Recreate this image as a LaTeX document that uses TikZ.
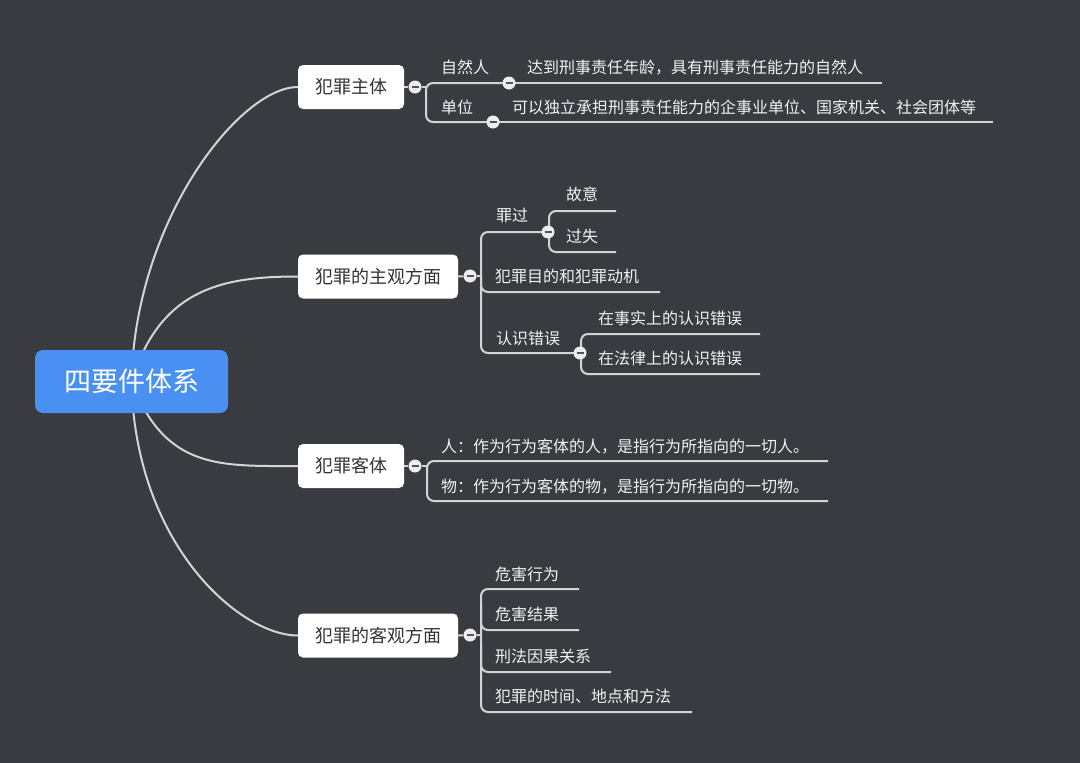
\documentclass[tikz,border=0pt]{standalone}
\usepackage{fontspec}
\newfontfamily\cjk{Noto Sans CJK SC}
\usetikzlibrary{backgrounds}
\definecolor{bgc}{HTML}{393B40}
\definecolor{linec}{HTML}{D4D4D4}
\definecolor{rootc}{HTML}{4A90F2}
\definecolor{boxtext}{HTML}{333333}
\definecolor{leaftext}{HTML}{F2F2F2}
\definecolor{minusc}{HTML}{505357}
\definecolor{togglec}{HTML}{EDEDED}
\begin{document}
\begin{tikzpicture}[x=1pt,y=-1pt,
  conn/.style={draw=linec,line width=2pt},
  rootbox/.style={fill=rootc,rounded corners=8pt,minimum width=193pt,minimum height=63pt,inner sep=0pt,text=white,font=\cjk\fontsize{27}{27}\selectfont},
  branchbox/.style={fill=white,rounded corners=5pt,minimum height=44pt,inner sep=0pt,text=boxtext,font=\cjk\fontsize{18}{18}\selectfont},
  leaf/.style={anchor=west,inner sep=0pt,text=leaftext,font=\cjk\fontsize{16}{16}\selectfont,text height=13.3pt,text depth=1.1pt},
  toggle/.style={circle,fill=togglec,minimum size=13pt,inner sep=0pt,
    path picture={\draw[minusc,line width=1.8pt] ([xshift=-3.5pt]path picture bounding box.center) -- ([xshift=3.5pt]path picture bounding box.center);}},
]
\useasboundingbox (0,0) rectangle (1080,763);

% root and main branches
\node[rootbox] (root) at (131.5,381.5) {四要件体系};
\node[branchbox,minimum width=106pt] (b1) at (351,87) {犯罪主体};
\node[branchbox,minimum width=160pt] (b2) at (378,276.5) {犯罪的主观方面};
\node[branchbox,minimum width=106pt] (b3) at (351,466) {犯罪客体};
\node[branchbox,minimum width=160pt] (b4) at (378,635.5) {犯罪的客观方面};

% toggles of main branches
\node[toggle] (t1) at (415,87) {};
\node[toggle] (t2) at (470,276) {};
\node[toggle] (t3) at (415,466) {};
\node[toggle] (t4) at (470,635) {};

% junction coordinates
\coordinate (j1) at (426,87);
\coordinate (j2) at (481,276);
\coordinate (j3) at (427,466);
\coordinate (j4) at (481,635);

% ---- 犯罪主体
\node[leaf] (l11) at (441,67) {自然人};
\node[leaf] (l12) at (441,107) {单位};
\node[toggle] (n11) at (509,83) {};
\node[toggle] (n12) at (493,122) {};
\node[leaf] (l111) at (527,67) {达到刑事责任年龄，具有刑事责任能力的自然人};
\node[leaf] (l121) at (512,107) {可以独立承担刑事责任能力的企事业单位、国家机关、社会团体等};
\coordinate (u111) at (882,83);
\coordinate (u121) at (993,122);

% ---- 犯罪的主观方面
\node[leaf] (l21) at (496,215) {罪过};
\node[toggle] (n21) at (548,232) {};
\node[leaf] (l211) at (566,194) {故意};
\node[leaf] (l212) at (566,236) {过失};
\coordinate (u211) at (616,211);
\coordinate (u212) at (616,252);
\node[leaf] (l22) at (495,276) {犯罪目的和犯罪动机};
\coordinate (u22) at (660,292);
\node[leaf] (l23) at (496,338) {认识错误};
\node[toggle] (n23) at (580,353) {};
\node[leaf] (l231) at (598,318) {在事实上的认识错误};
\node[leaf] (l232) at (598,358) {在法律上的认识错误};
\coordinate (u231) at (760,334);
\coordinate (u232) at (760,374);

% ---- 犯罪客体
\node[leaf] (l31) at (441,446) {人：作为行为客体的人，是指行为所指向的一切人。};
\node[leaf] (l32) at (441,486) {物：作为行为客体的物，是指行为所指向的一切物。};
\coordinate (u31) at (828,461);
\coordinate (u32) at (828,501);

% ---- 犯罪的客观方面
\node[leaf] (l41) at (495,574) {危害行为};
\node[leaf] (l42) at (495,614) {危害结果};
\node[leaf] (l43) at (495,656) {刑法因果关系};
\node[leaf] (l44) at (495,696) {犯罪的时间、地点和方法};
\coordinate (u41) at (579,589);
\coordinate (u42) at (579,630);
\coordinate (u43) at (611,672);
\coordinate (u44) at (692,712);

\begin{pgfonlayer}{background}
  \fill[bgc] (0,0) rectangle (1080,763);
  % curves from root
  \draw[conn] (root.center) .. controls (135,220) and (240,87) .. (b1.west);
  \draw[conn] (root.center) .. controls (160,290) and (220,276.5) .. (b2.west);
  \draw[conn] (root.center) .. controls (165,470) and (220,466) .. (b3.west);
  \draw[conn] (root.center) .. controls (135,545) and (240,635.5) .. (b4.west);
  % branch to toggle to junction
  \draw[conn] (b1.east) -- (t1) -- (j1);
  \draw[conn] (b2.east) -- (t2) -- (j2);
  \draw[conn] (b3.east) -- (t3) -- (j3);
  \draw[conn] (b4.east) -- (t4) -- (j4);
  % 犯罪主体 bracket
  \draw[conn,rounded corners=7pt] (n11.center) -| (426,122) -- (n12.center);
  \draw[conn] (n11.center) -- (u111);
  \draw[conn] (n12.center) -- (u121);
  % 犯罪的主观方面 bracket
  \draw[conn,rounded corners=7pt] (n21.center) -| (481,353) -- (n23.center);
  \draw[conn,rounded corners=7pt] (j2) |- (u22);
  \draw[conn,rounded corners=7pt] (u211) -| (549,252) -- (u212);
  \draw[conn,rounded corners=7pt] (u231) -| (581,374) -- (u232);
  % 犯罪客体 bracket
  \draw[conn,rounded corners=7pt] (u31) -| (427,501) -- (u32);
  % 犯罪的客观方面 bracket
  \draw[conn,rounded corners=7pt] (u41) -| (481,712) -- (u44);
  \draw[conn,rounded corners=7pt] (481,605) |- (u42);
  \draw[conn,rounded corners=7pt] (481,645) |- (u43);
\end{pgfonlayer}
\end{tikzpicture}
\end{document}
